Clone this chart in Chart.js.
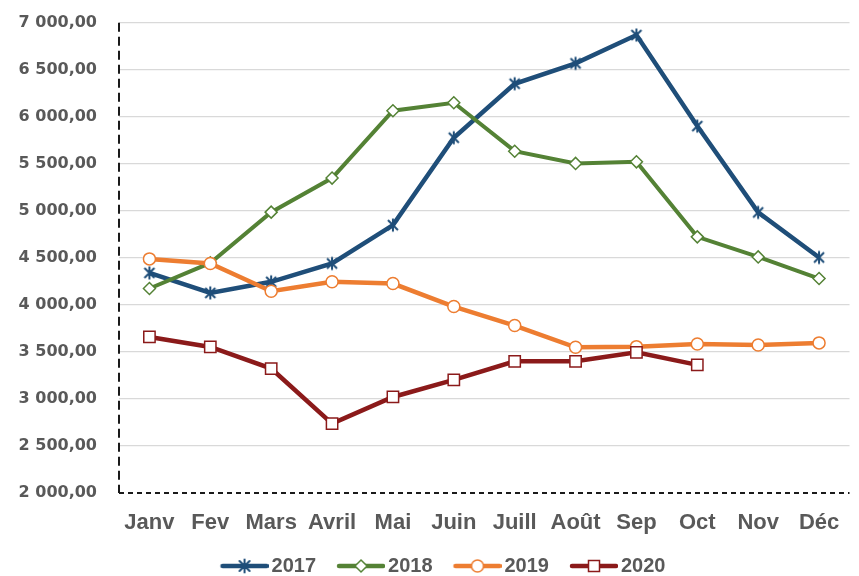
<!DOCTYPE html>
<html>
<head>
<meta charset="utf-8">
<script src="https://cdn.jsdelivr.net/npm/chart.js@4.4.0/dist/chart.umd.min.js"></script>
<style>
  html, body { margin: 0; padding: 0; background: #fff; }
  canvas { display: block; }
</style>
</head>
<body>
<canvas id="chart" width="859" height="576"></canvas>
<script>
// DATA
const months = ["Janv", "Fev", "Mars", "Avril", "Mai", "Juin", "Juill", "Août", "Sep", "Oct", "Nov", "Déc"];
const years = ["2017", "2018", "2019", "2020"];
const v2017 = [4340, 4127, 4245, 4440, 4848, 5777, 6351, 6568, 6869, 5901, 4983, 4504];
const v2018 = [4174, 4446, 4986, 5348, 6064, 6149, 5634, 5504, 5521, 4723, 4510, 4280];
const v2019 = [4489, 4440, 4145, 4245, 4227, 3982, 3780, 3549, 3556, 3585, 3574, 3596];
const v2020 = [3659, 3553, 3323, 2738, 3021, 3202, 3400, 3400, 3496, 3362, null, null];
const yTicks = [2000, 2500, 3000, 3500, 4000, 4500, 5000, 5500, 6000, 6500, 7000];

const colors = ["#1f4e79", "#548235", "#ed7d31", "#8b1a1a"];
const textColor = "#595959";

// number format "7 000,00"
function fmt(v) {
  return String(v).replace(/\B(?=(\d{3})+(?!\d))/g, " ") + ",00";
}

// draw one marker on a 2d context
function drawMarker(ctx, kind, color, x, y) {
  ctx.save();
  ctx.strokeStyle = color;
  ctx.fillStyle = "#fff";
  if (kind === "star") {
    ctx.lineWidth = 2;
    ctx.beginPath();
    ctx.moveTo(x - 5, y - 5); ctx.lineTo(x + 5, y + 5);
    ctx.moveTo(x + 5, y - 5); ctx.lineTo(x - 5, y + 5);
    ctx.moveTo(x, y - 6.5); ctx.lineTo(x, y + 6.5);
    ctx.stroke();
  } else if (kind === "diamond") {
    ctx.lineWidth = 1.5;
    ctx.beginPath();
    ctx.moveTo(x, y - 6); ctx.lineTo(x + 6, y); ctx.lineTo(x, y + 6); ctx.lineTo(x - 6, y);
    ctx.closePath(); ctx.fill(); ctx.stroke();
  } else if (kind === "circle") {
    ctx.lineWidth = 1.5;
    ctx.beginPath();
    ctx.arc(x, y, 6, 0, Math.PI * 2);
    ctx.fill(); ctx.stroke();
  } else {
    ctx.lineWidth = 1.5;
    ctx.fillRect(x - 5.5, y - 5.5, 11, 11);
    ctx.strokeRect(x - 5.5, y - 5.5, 11, 11);
  }
  ctx.restore();
}

// star marker for 2017 points (asterisk like Excel)
const starImg = document.createElement("canvas");
starImg.width = 16; starImg.height = 16;
drawMarker(starImg.getContext("2d"), "star", colors[0], 8, 8);

// legend symbols: line with marker in the middle
const kinds = ["star", "diamond", "circle", "square"];
const LEG_PSW = 52;
function legendSymbol(i) {
  const c = document.createElement("canvas");
  c.width = LEG_PSW + 14; c.height = 16;
  const ctx = c.getContext("2d");
  const x0 = 18, x1 = c.width;
  ctx.strokeStyle = colors[i];
  ctx.lineWidth = 4.5;
  ctx.lineCap = "round";
  ctx.beginPath();
  ctx.moveTo(x0 + 2, 8); ctx.lineTo(x1 - 2, 8);
  ctx.stroke();
  drawMarker(ctx, kinds[i], colors[i], (x0 + x1) / 2, 8);
  return c;
}

// dashed left / bottom axis lines
const dashedAxes = {
  id: "dashedAxes",
  beforeDatasetsDraw(chart) {
    const { ctx, chartArea: a } = chart;
    ctx.save();
    ctx.strokeStyle = "#1a1a1a";
    ctx.lineWidth = 2;
    ctx.setLineDash([9, 5]);
    ctx.beginPath();
    ctx.moveTo(a.left, a.top); ctx.lineTo(a.left, a.bottom);
    ctx.stroke();
    ctx.setLineDash([5, 4]);
    ctx.beginPath();
    ctx.moveTo(a.left, a.bottom); ctx.lineTo(a.right, a.bottom);
    ctx.stroke();
    ctx.restore();
  }
};

// no automatic scale padding
function noPad(s) {
  s.paddingLeft = 0; s.paddingRight = 0; s.paddingTop = 0; s.paddingBottom = 0;
  s.getPadding = () => ({ left: 0, top: 0, right: 0, bottom: 0 });
}

const base = {
  fill: false,
  tension: 0,
  borderWidth: 4.5,
  pointBackgroundColor: "#fff",
  pointBorderWidth: 1.5,
  spanGaps: false
};

new Chart(document.getElementById("chart"), {
  type: "line",
  data: {
    labels: months,
    datasets: [
      { ...base, label: years[0], data: v2017, borderColor: colors[0], pointStyle: starImg, order: 4 },
      { ...base, label: years[1], data: v2018, borderColor: colors[1], pointBorderColor: colors[1], pointStyle: "rectRot", pointRadius: 6, borderWidth: 4, order: 3 },
      { ...base, label: years[2], data: v2019, borderColor: colors[2], pointBorderColor: colors[2], pointStyle: "circle", pointRadius: 6, order: 2 },
      { ...base, label: years[3], data: v2020, borderColor: colors[3], pointBorderColor: colors[3], pointStyle: "rect", pointRadius: 8, order: 1 }
    ]
  },
  plugins: [dashedAxes],
  options: {
    responsive: false,
    animation: false,
    devicePixelRatio: 1,
    layout: { padding: { top: 22.7, right: 0, left: 16, bottom: 0 } },
    plugins: {
      tooltip: { enabled: false },
      legend: {
        position: "bottom",
        maxHeight: 30,
        labels: {
          usePointStyle: true,
          pointStyleWidth: LEG_PSW,
          padding: 10,
          color: textColor,
          font: { family: "'Liberation Sans', Arial, sans-serif", size: 20, weight: "bold" },
          generateLabels: chart => chart.data.datasets.map((ds, i) => ({
            text: ds.label,
            pointStyle: legendSymbol(i),
            fillStyle: colors[i],
            strokeStyle: colors[i],
            lineWidth: 0,
            fontColor: textColor,
            hidden: false,
            datasetIndex: i
          }))
        }
      }
    },
    scales: {
      x: {
        offset: true,
        grid: { display: false, drawTicks: true, tickLength: 17 },
        border: { display: false },
        ticks: {
          padding: 0,
          color: textColor,
          maxRotation: 0,
          autoSkip: false,
          font: { family: "'Liberation Sans', Arial, sans-serif", size: 22, weight: "bold" }
        },
        afterFit: s => { s.height = 53; noPad(s); }
      },
      y: {
        min: 2000,
        max: 7000,
        afterBuildTicks: s => { s.ticks = yTicks.map(v => ({ value: v })); },
        grid: {
          color: c => (c.tick && c.tick.value === 2000) ? "rgba(0,0,0,0)" : "#d9d9d9",
          lineWidth: 1.2,
          drawTicks: false
        },
        border: { display: false },
        ticks: {
          padding: 22,
          color: textColor,
          callback: v => fmt(v),
          font: { family: "'DejaVu Sans', Verdana, sans-serif", size: 16, weight: "bold" }
        },
        afterFit: s => { s.width = 103; noPad(s); }
      }
    }
  }
});
</script>
</body>
</html>
